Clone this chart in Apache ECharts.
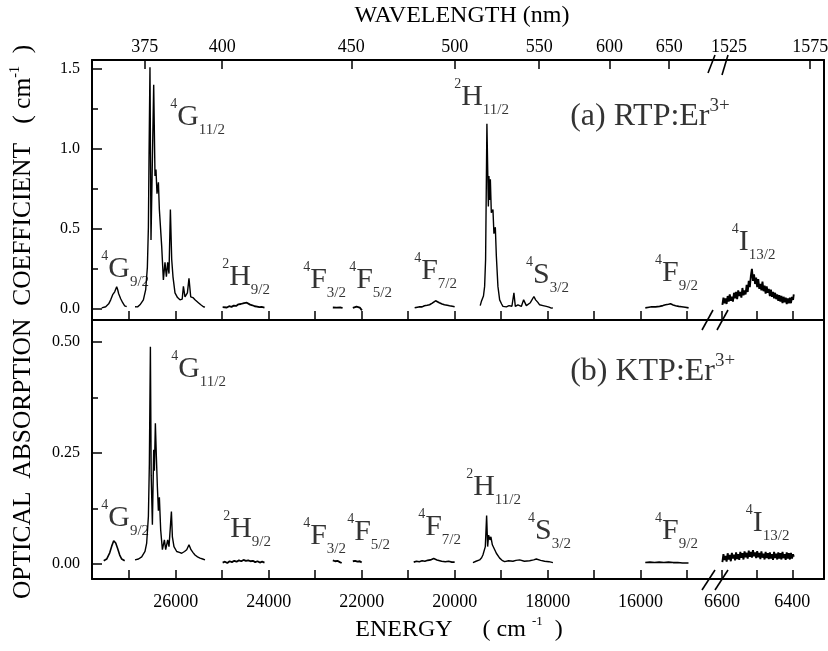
<!DOCTYPE html>
<html><head><meta charset="utf-8">
<script src="https://cdn.jsdelivr.net/npm/echarts@6/dist/echarts.min.js"></script>
<style>html,body{margin:0;padding:0;background:#fff}#c{width:828px;height:651px}</style>
</head><body><div id="c"></div>
<script>
// ---------- tick values / labels ----------
const energyTicksUV = [27000,26000,25000,24000,23000,22000,21000,20000,19000,18000,17000,16000,15000];
const energyLabelsUV = [26000,24000,22000,20000,18000,16000];
const energyTicksIR = [6600,6500,6400];
const energyLabelsIR = [6600,6400];
const wavelengthTicksUV = [375,400,450,500,550,600,650];
const wavelengthLabelsIR = [1525,1575];
const wavelengthPosIR = [6580,6349.2];     // cm-1 where the IR wavelength labels sit
const wavelengthTickIR = [6349.2];
const yTicksA = [0,0.5,1.0,1.5];
const yMinorA = [0.25,0.75,1.25];
const yTicksB = [0,0.25,0.5];
const yMinorB = [0.125,0.375];

// ---------- panel (a) RTP:Er3+ ----------
const a_G92 = [[27591,0.006],[27505,0.013],[27441,0.031],[27398,0.056],[27355,0.088],[27333,0.081],[27312,0.106],[27269,0.138],[27247,0.119],[27226,0.094],[27183,0.063],[27140,0.038],[27097,0.019],[27054,0.013]];
const a_G112 = [[26875,0.013],[26820,0.012],[26768,0.025],[26695,0.056],[26645,0.12],[26609,0.26],[26587,0.51],[26574,0.93],[26553,1.51],[26531,0.43],[26473,1.40],[26445,0.83],[26424,0.87],[26402,0.72],[26372,0.79],[26351,0.62],[26301,0.39],[26265,0.18],[26230,0.29],[26200,0.2],[26172,0.29],[26144,0.22],[26114,0.62],[26086,0.31],[26058,0.2],[26015,0.1],[25960,0.07],[25908,0.056],[25860,0.06],[25834,0.14],[25800,0.075],[25748,0.1],[25714,0.19],[25677,0.075],[25630,0.07],[25585,0.056],[25550,0.05],[25512,0.038],[25460,0.025],[25404,0.013],[25370,0.01]];
const a_H92 = [[24990,0.01],[24950,0.014],[24900,0.008],[24850,0.016],[24800,0.012],[24750,0.02],[24700,0.018],[24650,0.028],[24600,0.03],[24560,0.04],[24530,0.036],[24500,0.045],[24470,0.038],[24430,0.034],[24400,0.026],[24350,0.022],[24300,0.016],[24250,0.014],[24200,0.01],[24150,0.012],[24090,0.008]];
const a_F32 = [[22620,0.008],[22580,0.01],[22540,0.007],[22500,0.01],[22450,0.008],[22410,0.006]];
const a_F52 = [[22190,0.006],[22150,0.01],[22110,0.014],[22080,0.01],[22040,0.008],[22010,0.005],[21995,-0.01]];
const a_F72 = [[20860,0.006],[20800,0.01],[20750,0.013],[20700,0.012],[20650,0.019],[20590,0.022],[20540,0.025],[20490,0.034],[20460,0.04],[20410,0.05],[20370,0.042],[20330,0.038],[20270,0.03],[20220,0.025],[20160,0.022],[20110,0.019],[20050,0.016],[20000,0.013]];
const a_H112 = [[19450,0.02],[19426,0.045],[19380,0.08],[19355,0.14],[19334,0.31],[19306,1.156],[19275,0.64],[19262,0.83],[19247,0.68],[19232,0.81],[19211,0.6],[19176,0.62],[19155,0.47],[19125,0.51],[19103,0.33],[19069,0.14],[19032,0.056],[18990,0.03],[18961,0.015],[18920,0.018],[18888,0.012],[18830,0.02],[18768,0.016],[18725,0.1],[18695,0.015],[18639,0.025],[18600,0.02],[18566,0.015],[18516,0.056],[18458,0.02],[18420,0.03],[18372,0.038],[18330,0.05],[18295,0.077],[18258,0.056],[18210,0.04],[18172,0.025],[18100,0.02],[18028,0.015],[17970,0.01],[17920,0.004],[17886,0.006]];
const a_F92 = [[15899,0.006],[15820,0.01],[15762,0.013],[15680,0.012],[15591,0.015],[15520,0.02],[15462,0.025],[15400,0.028],[15355,0.031],[15300,0.024],[15248,0.019],[15180,0.015],[15118,0.013],[15040,0.01],[14968,0.006]];
const a_I132 = [[6599,0.025],[6596,0.07],[6593,0.035],[6590,0.065],[6587,0.03],[6584,0.08],[6581,0.045],[6578,0.09],[6575,0.05],[6572,0.075],[6569,0.045],[6566,0.1],[6563,0.065],[6560,0.105],[6557,0.06],[6554,0.115],[6551,0.08],[6548,0.105],[6545,0.07],[6542,0.13],[6539,0.085],[6536,0.115],[6533,0.09],[6530,0.15],[6527,0.105],[6524,0.175],[6521,0.135],[6518,0.205],[6515,0.25],[6512,0.175],[6509,0.215],[6506,0.155],[6503,0.195],[6500,0.135],[6497,0.185],[6494,0.125],[6491,0.155],[6488,0.115],[6485,0.17],[6482,0.11],[6479,0.145],[6476,0.095],[6473,0.14],[6470,0.1],[6467,0.125],[6464,0.08],[6461,0.12],[6458,0.075],[6455,0.105],[6452,0.065],[6449,0.1],[6446,0.06],[6443,0.09],[6440,0.05],[6437,0.085],[6434,0.045],[6431,0.08],[6428,0.035],[6425,0.075],[6422,0.04],[6419,0.07],[6416,0.03],[6413,0.065],[6410,0.035],[6407,0.07],[6404,0.035],[6401,0.075],[6398,0.055],[6396,0.09]];

// ---------- panel (b) KTP:Er3+ ----------
const b_G92 = [[27548,0.007],[27484,0.011],[27419,0.025],[27376,0.04],[27333,0.052],[27312,0.054],[27290,0.047],[27247,0.034],[27204,0.02],[27161,0.011],[27097,0.007]];
const b_G112 = [[26875,0.009],[26800,0.011],[26731,0.016],[26660,0.028],[26624,0.047],[26587,0.107],[26566,0.227],[26544,0.489],[26527,0.2],[26501,0.088],[26473,0.257],[26458,0.21],[26437,0.317],[26415,0.24],[26394,0.174],[26372,0.12],[26351,0.15],[26323,0.077],[26286,0.032],[26243,0.054],[26215,0.032],[26172,0.054],[26144,0.039],[26114,0.084],[26092,0.118],[26071,0.061],[26037,0.039],[25978,0.028],[25920,0.026],[25871,0.024],[25810,0.028],[25763,0.032],[25714,0.043],[25671,0.032],[25630,0.026],[25585,0.02],[25530,0.016],[25477,0.013],[25420,0.011],[25370,0.009]];
const b_H92 = [[24990,0.003],[24940,0.005],[24890,0.002],[24840,0.006],[24790,0.004],[24740,0.007],[24690,0.005],[24640,0.008],[24590,0.006],[24540,0.009],[24490,0.007],[24440,0.008],[24390,0.006],[24340,0.007],[24290,0.004],[24240,0.006],[24190,0.003],[24140,0.005],[24090,0.003]];
const b_F32 = [[22620,0.008],[22570,0.006],[22520,0.007],[22470,0.004],[22430,0.002]];
const b_F52 = [[22190,0.006],[22140,0.007],[22090,0.005],[22040,0.006],[22000,0.003]];
const b_F72 = [[20880,0.004],[20820,0.006],[20760,0.005],[20700,0.007],[20640,0.006],[20580,0.008],[20520,0.009],[20450,0.012],[20420,0.013],[20380,0.009],[20340,0.007],[20280,0.006],[20200,0.005],[20130,0.006],[20060,0.004],[20000,0.004]];
const b_H112 = [[19607,0.003],[19540,0.006],[19463,0.009],[19420,0.014],[19392,0.02],[19340,0.039],[19312,0.109],[19290,0.039],[19269,0.065],[19241,0.054],[19220,0.061],[19189,0.043],[19155,0.039],[19103,0.024],[19032,0.013],[18980,0.008],[18925,0.005],[18840,0.007],[18746,0.006],[18680,0.008],[18602,0.009],[18500,0.006],[18387,0.007],[18300,0.009],[18243,0.011],[18150,0.008],[18065,0.006],[17970,0.005],[17886,0.003]];
const b_F92 = [[15900,0.003],[15800,0.004],[15700,0.003],[15600,0.004],[15500,0.003],[15400,0.004],[15300,0.003],[15200,0.003],[15100,0.002],[14970,0.002]];
const b_I132 = [[6599,0.004],[6596,0.022],[6593,0.009],[6590,0.018],[6587,0.005],[6584,0.024],[6581,0.01],[6578,0.02],[6575,0.006],[6572,0.025],[6569,0.012],[6566,0.021],[6563,0.008],[6560,0.026],[6557,0.011],[6554,0.022],[6551,0.009],[6548,0.027],[6545,0.014],[6542,0.024],[6539,0.01],[6536,0.028],[6533,0.015],[6530,0.025],[6527,0.012],[6524,0.03],[6521,0.016],[6518,0.027],[6515,0.014],[6512,0.031],[6509,0.017],[6506,0.026],[6503,0.013],[6500,0.029],[6497,0.015],[6494,0.025],[6491,0.011],[6488,0.028],[6485,0.014],[6482,0.023],[6479,0.01],[6476,0.027],[6473,0.013],[6470,0.024],[6467,0.011],[6464,0.026],[6461,0.012],[6458,0.022],[6455,0.009],[6452,0.027],[6449,0.013],[6446,0.023],[6443,0.01],[6440,0.026],[6437,0.012],[6434,0.024],[6431,0.01],[6428,0.027],[6425,0.013],[6422,0.022],[6419,0.009],[6416,0.026],[6413,0.012],[6410,0.024],[6407,0.01],[6404,0.025],[6401,0.012],[6398,0.022],[6396,0.016]];

// ---------- annotations (sup|main|sub, anchored at data coords of top-left) ----------
const termsUV = ['4|G|9/2','4|G|11/2','2|H|9/2','4|F|3/2','4|F|5/2','4|F|7/2','2|H|11/2','4|S|3/2','4|F|9/2'];
const termPosA = [[27591,0.369],[26108,1.319],[24990,0.319],[23247,0.30],[22258,0.30],[20860,0.356],[20000,1.444],[18452,0.331],[15678,0.344]];
const termPosB = [[27591,0.146],[26086,0.482],[24968,0.122],[23247,0.106],[22301,0.115],[20774,0.126],[19742,0.216],[18409,0.117],[15678,0.117]];
const termIR = '4|I|13/2';
const termIRPosA = [6571,0.538];
const termIRPosB = [6531,0.135];
const sampleA = '(a) RTP:Er|3+';
const sampleB = '(b) KTP:Er|3+';
const samplePosA = [17505,1.325];
const samplePosB = [17505,0.477];

// ---------- chart ----------
const F = 'Liberation Serif';
const BLACK = '#000';
const L = 92, BRK = 715, R = 824, TOP = 60, MID = 320, BOT = 579;
const uvRange = [14400, 27800], irRange = [6310, 6620];
const yRangeA = [-0.07, 1.555], yRangeB = [-0.034, 0.5495];

const rich = {
  s:{fontFamily:F,fontSize:14,lineHeight:20,verticalAlign:'top',color:BLACK},
  m:{fontFamily:F,fontSize:30,lineHeight:40,verticalAlign:'middle',color:BLACK},
  b:{fontFamily:F,fontSize:15,lineHeight:11,verticalAlign:'bottom',color:BLACK},
  t:{fontFamily:F,fontSize:32,lineHeight:40,verticalAlign:'middle',color:BLACK},
  u:{fontFamily:F,fontSize:19,lineHeight:16,verticalAlign:'top',color:BLACK}
};
function termText(t){ const p=t.split('|'); return '{s|'+p[0]+'}{m|'+p[1]+'}{b|'+p[2]+'}'; }
function sampleText(t){ const p=t.split('|'); return '{t|'+p[0]+'}{u|'+p[1]+'}'; }

function xAx(grid, pos, range, ticks, labels, fmt, tickLen, showLine, margin){
  return {type:'value', gridIndex:grid, position:pos, inverse:true, min:range[0], max:range[1],
    axisLine:{show:showLine, onZero:false, lineStyle:{color:BLACK,width:2}},
    axisTick:{show:ticks.length>0, inside:true, length:tickLen, customValues:ticks, lineStyle:{color:BLACK,width:1.5}},
    axisLabel:{show:labels.length>0, customValues:labels, formatter:fmt, fontFamily:F, fontSize:18, color:BLACK, margin:margin},
    splitLine:{show:false}};
}
function yAx(grid, pos, range, ticks, labels, fmt, tickLen, showLine){
  return {type:'value', gridIndex:grid, position:pos, min:range[0], max:range[1],
    axisLine:{show:showLine, onZero:false, lineStyle:{color:BLACK,width:2}},
    axisTick:{show:ticks.length>0, inside:true, length:tickLen, customValues:ticks, lineStyle:{color:BLACK,width:1.5}},
    axisLabel:{show:labels.length>0, customValues:labels, formatter:fmt, fontFamily:F, fontSize:16, color:BLACK, margin:12},
    splitLine:{show:false}};
}
const wlUV = wavelengthTicksUV.map(w => 1e7 / w);
const fmtWLUV = v => String(Math.round(1e7 / v));
const fmtWLIR = v => { const i = wavelengthPosIR.findIndex(p => Math.abs(p - v) < 1); return i >= 0 ? String(wavelengthLabelsIR[i]) : ''; };
const fmtE = v => String(v);

const xAxes = [
  xAx(0,'bottom',uvRange,energyTicksUV,[],null,9,true,14),          // 0
  xAx(0,'top',uvRange,wlUV,wlUV,fmtWLUV,9,true,4),                  // 1
  xAx(1,'bottom',irRange,energyTicksIR,[],null,9,true,14),          // 2
  xAx(1,'top',irRange,wavelengthTickIR,wavelengthPosIR,fmtWLIR,9,true,4), // 3
  xAx(2,'bottom',uvRange,energyTicksUV,energyLabelsUV,fmtE,9,true,14),    // 4
  xAx(3,'bottom',irRange,energyTicksIR,energyLabelsIR,fmtE,9,true,14)     // 5
];
const yAxes = [
  yAx(0,'left',yRangeA,yTicksA,yTicksA,v=>v.toFixed(1),10,true),   // 0
  yAx(0,'left',yRangeA,yMinorA,[],null,6,false),                   // 1
  yAx(1,'right',yRangeA,[],[],null,0,true),                        // 2
  yAx(2,'left',yRangeB,yTicksB,yTicksB,v=>v.toFixed(2),10,true),   // 3
  yAx(2,'left',yRangeB,yMinorB,[],null,6,false),                   // 4
  yAx(3,'right',yRangeB,[],[],null,0,true)                         // 5
];

function line(data, xi, yi, w){
  return {type:'line', data:data, xAxisIndex:xi, yAxisIndex:yi, symbol:'none', silent:true,
    lineStyle:{color:BLACK,width:w||1.4}, itemStyle:{color:BLACK}, animation:false};
}
function labels(items, xi, yi){
  return {type:'scatter', xAxisIndex:xi, yAxisIndex:yi, symbolSize:1, silent:true, animation:false,
    itemStyle:{color:'rgba(0,0,0,0)'},
    data: items.map(it => ({value:it.pos, label:{show:true, position:[0,0], align:'left', verticalAlign:'top', formatter:it.text, rich:rich}}))};
}
const labA = termsUV.map((t,i)=>({text:termText(t), pos:termPosA[i]})).concat([{text:sampleText(sampleA), pos:samplePosA}]);
const labB = termsUV.map((t,i)=>({text:termText(t), pos:termPosB[i]})).concat([{text:sampleText(sampleB), pos:samplePosB}]);

const series = [
  line(a_G92,0,0), line(a_G112,0,0), line(a_H92,0,0,1.8), line(a_F32,0,0,1.8), line(a_F52,0,0,1.8),
  line(a_F72,0,0,1.6), line(a_H112,0,0), line(a_F92,0,0,1.6), line(a_I132,2,2,1.9),
  line(b_G92,4,3,1.6), line(b_G112,4,3), line(b_H92,4,3,1.8), line(b_F32,4,3,1.8), line(b_F52,4,3,1.8),
  line(b_F72,4,3,1.6), line(b_H112,4,3), line(b_F92,4,3,1.6), line(b_I132,5,5,1.9),
  labels(labA,0,0), labels([{text:termText(termIR), pos:termIRPosA}],2,2),
  labels(labB,4,3), labels([{text:termText(termIR), pos:termIRPosB}],5,5)
];

function slash(x1,y1,x2,y2){ return {type:'line', shape:{x1:x1,y1:y1,x2:x2,y2:y2}, style:{stroke:BLACK,lineWidth:1.6}, z:100}; }
const graphic = [
  {type:'text', x:462, y:16, style:{text:'WAVELENGTH (nm)', fontFamily:F, fontSize:24, fill:BLACK, align:'center', verticalAlign:'middle'}},
  {type:'text', x:459, y:630, style:{text:'{m|ENERGY     ( cm }{s|-1}{m|  )}', align:'center', verticalAlign:'middle',
     rich:{m:{fontFamily:F,fontSize:24,lineHeight:30,verticalAlign:'middle',fill:BLACK}, s:{fontFamily:F,fontSize:13,lineHeight:16,verticalAlign:'top',fill:BLACK}}}},
  {type:'text', x:23, y:322, rotation:Math.PI/2, style:{text:'{m|OPTICAL  ABSORPTION  COEFFICIENT   ( cm}{s|-1}{m|  )}', align:'center', verticalAlign:'middle',
     rich:{m:{fontFamily:F,fontSize:25.5,lineHeight:30,verticalAlign:'middle',fill:BLACK}, s:{fontFamily:F,fontSize:14,lineHeight:16,verticalAlign:'top',fill:BLACK}}}},
  slash(BRK-7,TOP+13,BRK,TOP-5), slash(BRK+7,TOP+15,BRK+13,TOP-5),
  slash(BRK-13,MID+10,BRK-2,MID-10), slash(BRK+2,MID+10,BRK+13,MID-10),
  slash(BRK-13,BOT+11,BRK,BOT-9), slash(BRK,BOT+11,BRK+13,BOT-9)
];

const gridBase = {outerBoundsMode:'none', containLabel:false};
const chart = echarts.init(document.getElementById('c'), null, {renderer:'canvas'});
chart.setOption({
  animation:false,
  backgroundColor:'#fff',
  grid:[
    Object.assign({left:L, top:TOP, width:BRK-L, height:MID-TOP}, gridBase),
    Object.assign({left:BRK, top:TOP, width:R-BRK, height:MID-TOP}, gridBase),
    Object.assign({left:L, top:MID, width:BRK-L, height:BOT-MID}, gridBase),
    Object.assign({left:BRK, top:MID, width:R-BRK, height:BOT-MID}, gridBase)
  ],
  xAxis:xAxes, yAxis:yAxes, series:series, graphic:graphic
});
</script></body></html>
